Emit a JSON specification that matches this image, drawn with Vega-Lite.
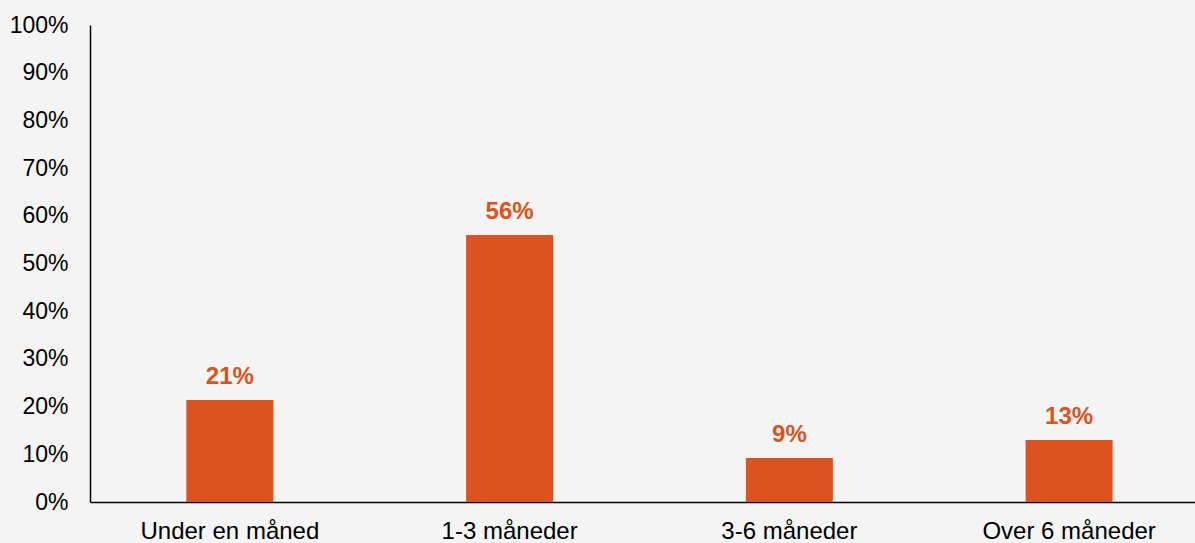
{
  "$schema": "https://vega.github.io/schema/vega-lite/v6.json",
  "autosize": "none",
  "padding": {"left": 90, "top": 25, "right": 0, "bottom": 41},
  "width": 1119,
  "height": 477,
  "background": "#f4f4f4",
  "config": {
    "view": {"stroke": null},
    "font": "Liberation Sans"
  },
  "data": {
    "values": [
      {"kategori": "Under en måned", "andel": 0.214},
      {"kategori": "1-3 måneder", "andel": 0.56},
      {"kategori": "3-6 måneder", "andel": 0.092},
      {"kategori": "Over 6 måneder", "andel": 0.13}
    ]
  },
  "encoding": {
    "x": {
      "field": "kategori",
      "type": "nominal",
      "sort": null,
      "scale": {"paddingInner": 0, "paddingOuter": 0},
      "axis": {
        "title": null,
        "labelAngle": 0,
        "labelFontSize": 24,
        "labelColor": "#000000",
        "labelPadding": 17,
        "labelOverlap": false,
        "ticks": false,
        "domainColor": "#000000",
        "domainWidth": 1.5,
        "grid": false
      }
    },
    "y": {
      "field": "andel",
      "type": "quantitative",
      "scale": {"domain": [0, 1]},
      "axis": {
        "title": null,
        "format": ".0%",
        "values": [0, 0.1, 0.2, 0.3, 0.4, 0.5, 0.6, 0.7, 0.8, 0.9, 1],
        "labelFontSize": 23,
        "labelColor": "#000000",
        "labelPadding": 22,
        "labelOverlap": false,
        "labelBound": false,
        "labelFlush": false,
        "ticks": false,
        "domainColor": "#000000",
        "domainWidth": 1.5,
        "grid": false
      }
    }
  },
  "layer": [
    {
      "mark": {"type": "bar", "width": 87, "color": "#db5320"}
    },
    {
      "mark": {
        "type": "text",
        "color": "#db5320",
        "fontSize": 24,
        "fontWeight": "bold",
        "baseline": "alphabetic",
        "dy": -16
      },
      "encoding": {
        "text": {"field": "andel", "type": "quantitative", "format": ".0%"}
      }
    }
  ]
}
